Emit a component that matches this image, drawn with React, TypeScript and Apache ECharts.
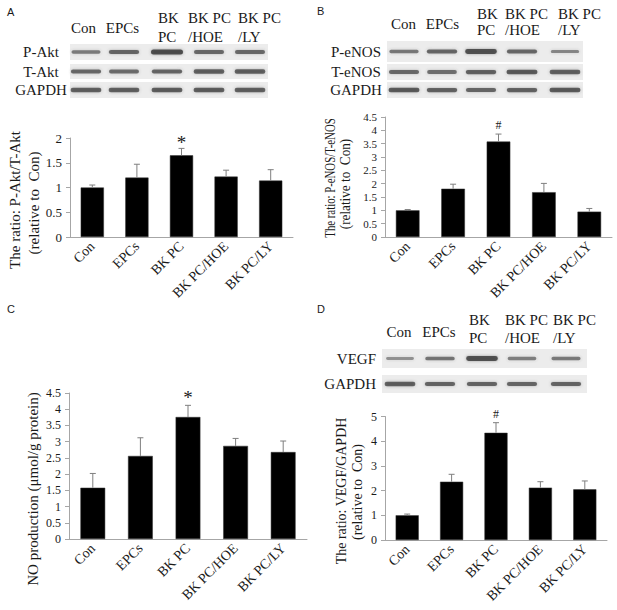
import React, { useEffect, useRef } from "react";
import * as echarts from "echarts";

// ---------- data ----------
const categories = ["Con", "EPCs", "BK PC", "BK PC/HOE", "BK PC/LY"];
const laneHeaders = ["Con", "EPCs", "BK\nPC", "BK PC\n/HOE", "BK PC\n/LY"];

// A: P-Akt / T-Akt ratio
const aktMean = [1.0, 1.2, 1.65, 1.22, 1.14];
const aktSem = [0.05, 0.27, 0.14, 0.13, 0.22];
const aktMarks = ["", "", "*", "", ""];

// B: P-eNOS / T-eNOS ratio
const enosMean = [1.0, 1.81, 3.58, 1.68, 0.95];
const enosSem = [0.03, 0.17, 0.28, 0.33, 0.12];
const enosMarks = ["", "", "#", "", ""];

// C: NO production
const noMean = [1.58, 2.56, 3.76, 2.87, 2.68];
const noSem = [0.44, 0.56, 0.36, 0.23, 0.34];
const noMarks = ["", "", "*", "", ""];

// D: VEGF / GAPDH ratio
const vegfMean = [1.0, 2.36, 4.34, 2.12, 2.05];
const vegfSem = [0.05, 0.3, 0.41, 0.24, 0.34];
const vegfMarks = ["", "", "#", "", ""];

// blot band intensities (rows x lanes)
const aktBlotRows = ["P-Akt", "T-Akt", "GAPDH"];
const aktBlotBands = [
  [0.5, 0.72, 1.0, 0.68, 0.68],
  [0.7, 0.65, 0.72, 0.78, 0.78],
  [0.78, 0.78, 0.8, 0.8, 0.78],
];
const enosBlotRows = ["P-eNOS", "T-eNOS", "GAPDH"];
const enosBlotBands = [
  [0.55, 0.72, 0.95, 0.7, 0.4],
  [0.68, 0.62, 0.75, 0.82, 0.78],
  [0.82, 0.75, 0.7, 0.75, 0.82],
];
const vegfBlotRows = ["VEGF", "GAPDH"];
const vegfBlotBands = [
  [0.3, 0.58, 0.95, 0.45, 0.52],
  [0.78, 0.72, 0.72, 0.7, 0.72],
];

// ---------- styling ----------
const SERIF = "'Liberation Serif', 'Times New Roman', serif";
const SANS = "'Liberation Sans', Arial, sans-serif";
const TXT = "#1a1a1a";
const AXIS = "#a6a6a6";

function txt(x: number, y: number, text: string, opts: any = {}) {
  const align = opts.align || "center";
  const va = opts.va || "middle";
  return {
    type: "text",
    x,
    y,
    rotation: opts.rotation || 0,
    scaleX: opts.scaleX || 1,
    scaleY: opts.scaleY || 1,
    z: 10,
    style: {
      text,
      fill: opts.fill || TXT,
      fontSize: opts.fontSize || 15,
      fontFamily: opts.fontFamily || SERIF,
      align,
      textAlign: align,
      verticalAlign: va,
      textVerticalAlign: va,
      lineHeight: opts.lineHeight || 18,
    },
  };
}

function blot(layout: any, rows: string[], bands: number[][]) {
  const els: any[] = [];
  rows.forEach((name, r) => {
    const row = layout.rows[r];
    els.push({
      type: "rect",
      shape: { x: layout.x, y: row.y, width: layout.w, height: row.h },
      style: { fill: "#ececec" },
      z: 1,
    });
    els.push(
      txt(layout.labelX, row.y + row.h / 2, name, {
        align: layout.labelAlign,
        fontSize: 15,
      })
    );
    bands[r].forEach((v, i) => {
      const cx = layout.lanes[i];
      const bw = 26 + v * 6;
      const bh = 2 + v * 3;
      const a = 0.3 + v * 0.5;
      els.push({
        type: "rect",
        shape: {
          x: cx - bw / 2,
          y: row.y + row.h / 2 - bh / 2,
          width: bw,
          height: bh,
          r: bh / 2,
        },
        style: {
          fill: `rgba(50,50,50,${a.toFixed(2)})`,
          shadowBlur: 3,
          shadowColor: `rgba(70,70,70,${(a * 0.8).toFixed(2)})`,
        },
        z: 2,
      });
    });
  });
  // headers
  laneHeaders.forEach((h, i) => {
    const two = h.indexOf("\n") >= 0;
    if (!two) {
      els.push(txt(layout.headCenters[i], layout.headY, h, { fontSize: 15 }));
    } else {
      const parts = h.split("\n");
      els.push(txt(layout.headLeft[i], layout.headY1, parts[0], { align: "left", fontSize: 15 }));
      els.push(txt(layout.headLeft[i], layout.headY2, parts[1], { align: "left", fontSize: 15 }));
    }
  });
  return els;
}

function barSeries(idx: number, mean: number[]) {
  return {
    type: "bar",
    xAxisIndex: idx,
    yAxisIndex: idx,
    data: mean,
    barWidth: "52%",
    itemStyle: { color: "#000", borderColor: "#333", borderWidth: 0.5 },
    z: 2,
  };
}

function errSeries(idx: number, mean: number[], sem: number[], marks: string[], markSize: number, markGap: number) {
  return {
    type: "custom",
    xAxisIndex: idx,
    yAxisIndex: idx,
    z: 5,
    data: mean.map((m, i) => [i, m, m + sem[i]]),
    renderItem: (params: any, api: any) => {
      const x = api.value(0);
      const p0 = api.coord([x, api.value(1)]);
      const p1 = api.coord([x, api.value(2)]);
      const children: any[] = [
        {
          type: "line",
          shape: { x1: p0[0], y1: p0[1], x2: p1[0], y2: p1[1] },
          style: { stroke: "#7f7f7f", lineWidth: 1 },
        },
        {
          type: "line",
          shape: { x1: p1[0] - 3, y1: p1[1], x2: p1[0] + 3, y2: p1[1] },
          style: { stroke: "#7f7f7f", lineWidth: 1 },
        },
      ];
      const mk = marks[params.dataIndex];
      if (mk) {
        children.push({
          type: "text",
          x: p1[0],
          y: p1[1] - markGap,
          style: {
            text: mk,
            fill: TXT,
            fontSize: markSize,
            fontFamily: SERIF,
            align: "center",
            textAlign: "center",
            verticalAlign: "bottom",
            textVerticalAlign: "bottom",
          },
        });
      }
      return { type: "group", children };
    },
  };
}

function xAxisDef(idx: number) {
  return {
    type: "category",
    gridIndex: idx,
    data: categories,
    axisLine: { lineStyle: { color: AXIS, width: 1 } },
    axisTick: { show: false },
    axisLabel: {
      rotate: 45,
      interval: 0,
      margin: 7,
      fontSize: 14,
      fontFamily: SERIF,
      color: TXT,
    },
  };
}

function yAxisDef(idx: number, max: number, interval: number, fontSize: number) {
  return {
    type: "value",
    gridIndex: idx,
    min: 0,
    max,
    interval,
    splitLine: { show: false },
    axisLine: { show: true, lineStyle: { color: AXIS, width: 1 } },
    axisTick: { show: true, length: 4, lineStyle: { color: AXIS } },
    axisLabel: { fontSize, fontFamily: SERIF, color: TXT, margin: 8 },
  };
}

export default function App() {
  const ref = useRef<HTMLDivElement>(null);
  useEffect(() => {
    if (!ref.current) return;
    const chart = echarts.init(ref.current, null, { renderer: "svg" });

    const graphics: any[] = [
      txt(7, 12, "A", { fontFamily: SANS, fontSize: 11, align: "left" }),
      txt(317, 11, "B", { fontFamily: SANS, fontSize: 11, align: "left" }),
      txt(7, 309, "C", { fontFamily: SANS, fontSize: 11, align: "left" }),
      txt(317, 309, "D", { fontFamily: SANS, fontSize: 11, align: "left" }),
      ...blot(
        {
          x: 70,
          w: 198,
          rows: [
            { y: 44, h: 16 },
            { y: 64, h: 15 },
            { y: 82, h: 16 },
          ],
          lanes: [86, 124, 167, 209, 250],
          labelX: 41,
          labelAlign: "center",
          headCenters: [83.5, 122.5],
          headY: 28,
          headLeft: [0, 0, 158, 188, 238],
          headY1: 18,
          headY2: 36.5,
        },
        aktBlotRows,
        aktBlotBands
      ),
      ...blot(
        {
          x: 387,
          w: 196,
          rows: [
            { y: 41, h: 21 },
            { y: 64, h: 16 },
            { y: 82, h: 16 },
          ],
          lanes: [404, 442, 481, 522, 565],
          labelX: 356,
          labelAlign: "center",
          headCenters: [403.5, 442.5],
          headY: 24,
          headLeft: [0, 0, 477, 505, 558],
          headY1: 14,
          headY2: 29.5,
        },
        enosBlotRows,
        enosBlotBands
      ),
      ...blot(
        {
          x: 382,
          w: 205,
          rows: [
            { y: 349, h: 19 },
            { y: 375, h: 18 },
          ],
          lanes: [400, 440, 482, 522, 566],
          labelX: 376,
          labelAlign: "right",
          headCenters: [399, 439],
          headY: 332,
          headLeft: [0, 0, 469, 505, 553],
          headY1: 320,
          headY2: 338,
        },
        vegfBlotRows,
        vegfBlotBands
      ),
      // y-axis titles
      txt(14.5, 200, "The ratio: P-Akt/T-Akt", { rotation: Math.PI / 2, fontSize: 15 }),
      txt(34, 203, "(relative to  Con)", { rotation: Math.PI / 2, fontSize: 15 }),
      txt(330, 178, "The ratio: P-eNOS/T-eNOS", { rotation: Math.PI / 2, fontSize: 15, scaleX: 0.72 }),
      txt(345, 184, "(relative to  Con)", { rotation: Math.PI / 2, fontSize: 15, scaleX: 0.88 }),
      txt(32.5, 489, "NO production (μmol/g protein)", { rotation: Math.PI / 2, fontSize: 15 }),
      txt(341, 491, "The ratio: VEGF/GAPDH", { rotation: Math.PI / 2, fontSize: 14 }),
      txt(357, 492, "(relative to  Con)", { rotation: Math.PI / 2, fontSize: 14 }),
    ];

    chart.setOption({
      animation: false,
      backgroundColor: "#fff",
      grid: [
        { left: 70, top: 138, width: 223, height: 99 },
        { left: 385, top: 117, width: 227, height: 120 },
        { left: 69, top: 393, width: 238, height: 146 },
        { left: 385, top: 416.5, width: 222, height: 123.5 },
      ],
      xAxis: [xAxisDef(0), xAxisDef(1), xAxisDef(2), xAxisDef(3)],
      yAxis: [
        yAxisDef(0, 2, 0.5, 13),
        yAxisDef(1, 4.5, 0.5, 11),
        yAxisDef(2, 4.5, 0.5, 12),
        yAxisDef(3, 5, 1, 12),
      ],
      series: [
        barSeries(0, aktMean),
        errSeries(0, aktMean, aktSem, aktMarks, 19, -4),
        barSeries(1, enosMean),
        errSeries(1, enosMean, enosSem, enosMarks, 12, 3),
        barSeries(2, noMean),
        errSeries(2, noMean, noSem, noMarks, 19, -2),
        barSeries(3, vegfMean),
        errSeries(3, vegfMean, vegfSem, vegfMarks, 12, 3),
      ],
      graphic: { elements: graphics },
    });
    return () => chart.dispose();
  }, []);

  return (
    <div
      ref={ref}
      style={{ position: "absolute", left: 0, top: 0, width: 617, height: 610, background: "#fff" }}
    />
  );
}
